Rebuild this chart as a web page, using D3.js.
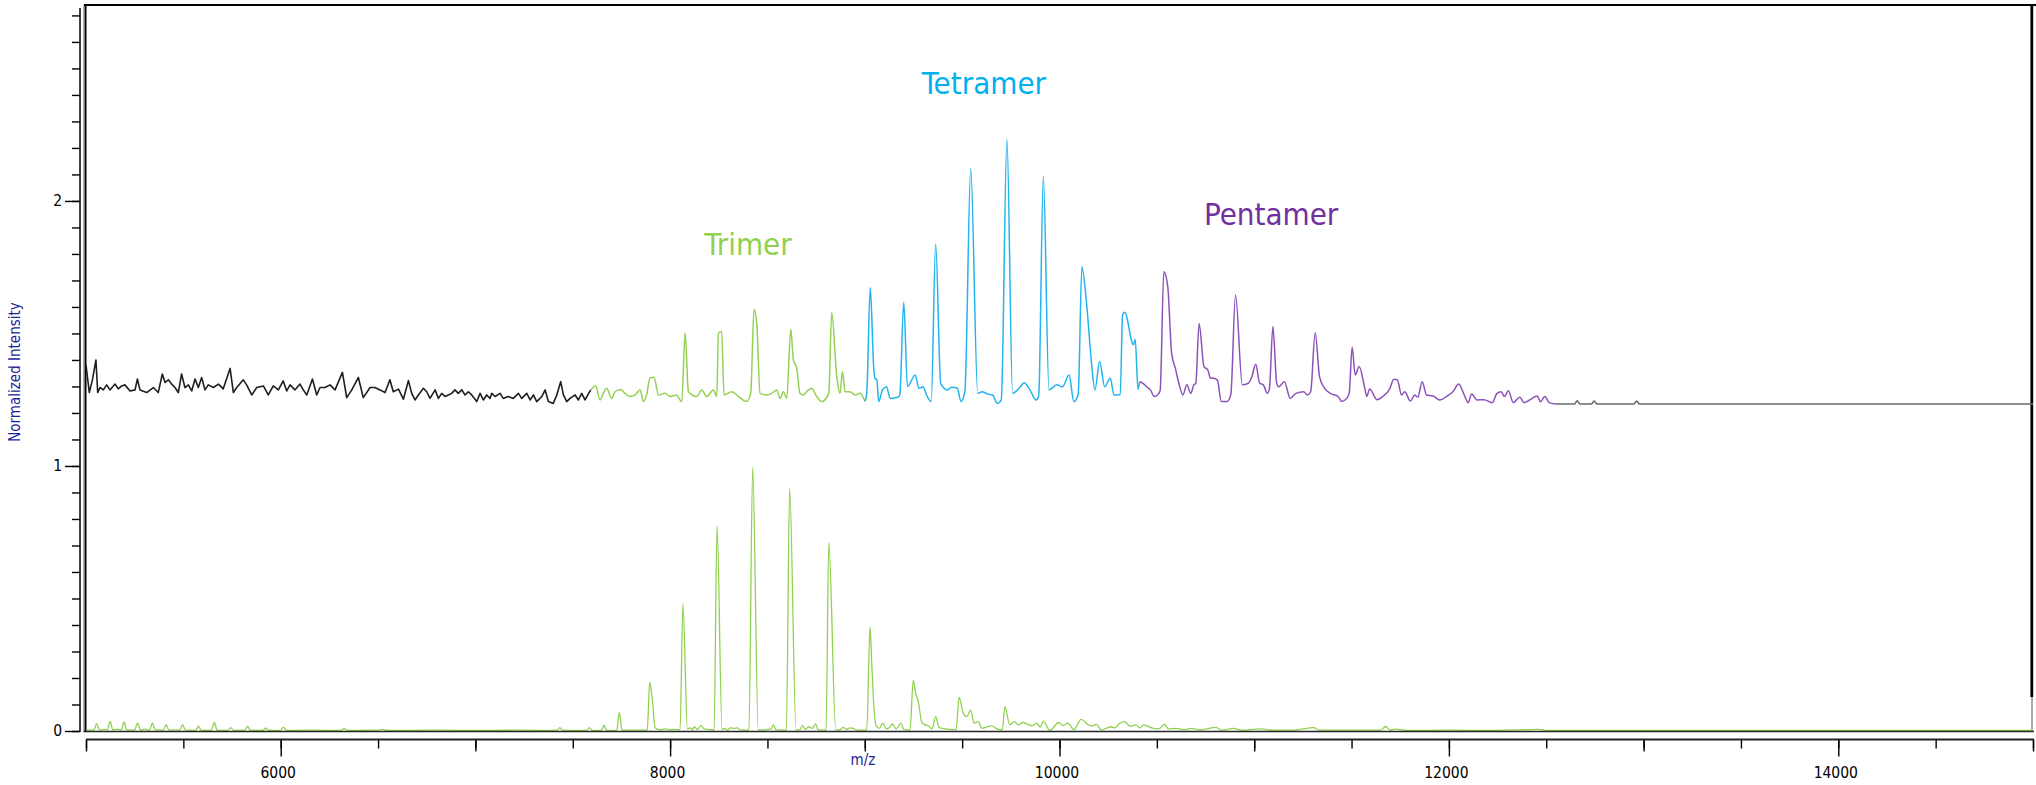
<!DOCTYPE html>
<html>
<head>
<meta charset="utf-8">
<script src="https://cdn.jsdelivr.net/npm/d3@7"></script>
<style>
body { margin: 0; background: #fff; overflow: hidden; }
svg { display: block; }
text { font-family: "DejaVu Sans Condensed", "DejaVu Sans", sans-serif; font-stretch: condensed; }
</style>
</head>
<body>
<div id="chart"></div>
<script>
// tick labels
var xTickLabels = [6000, 8000, 10000, 12000, 14000];
var xTickMid = [5000, 7000, 9000, 11000, 13000, 15000];
var yTickLabels = [0, 1, 2];

// annotations (m/z, intensity of baseline)
var labelNames = ["Trimer", "Tetramer", "Pentamer"];
var labelMz = [8400, 9612, 11087];
var labelLevel = [1.796, 2.403, 1.909];

// lower spectrum: [m/z, normalized intensity]
var lowerTrace = [
  [5000,0.004],[5040,0.003],[5055,0.028],[5068,0.004],[5100,0.006],[5110,0.004],[5124,0.036],[5138,0.004],
  [5160,0.006],[5182,0.004],[5196,0.034],[5210,0.003],[5250,0.004],[5265,0.030],[5280,0.003],[5300,0.007],
  [5326,0.003],[5341,0.030],[5356,0.004],[5398,0.003],[5412,0.024],[5426,0.003],[5460,0.004],[5482,0.003],
  [5496,0.024],[5511,0.003],[5562,0.002],[5578,0.018],[5592,0.002],[5643,0.002],[5659,0.032],[5674,0.002],
  [5728,0.002],[5743,0.013],[5758,0.002],[5814,0.002],[5830,0.017],[5845,0.002],[5908,0.002],[5923,0.011],
  [5938,0.002],[5998,0.002],[6014,0.015],[6030,0.002],[6150,0.003],[6310,0.002],[6326,0.009],[6342,0.002],
  [6500,0.003],[6524,0.006],[6545,0.002],[6800,0.003],[7000,0.002],[7200,0.003],[7420,0.002],[7434,0.013],
  [7448,0.002],[7572,0.002],[7586,0.013],[7600,0.002],[7648,0.002],[7661,0.022],[7674,0.002],[7726,0.003],
  [7739,0.069],[7753,0.003],[7883,0.003],[7895,0.184],[7909,0.117],[7923,0.012],[7948,0.004],[7975,0.008],
  [8000,0.004],[8020,0.006],[8051,0.004],[8066,0.479],[8089,0.008],[8105,0.012],[8115,0.004],[8125,0.016],
  [8140,0.006],[8160,0.020],[8175,0.008],[8226,0.004],[8241,0.774],[8267,0.006],[8280,0.010],[8295,0.004],
  [8310,0.012],[8330,0.010],[8345,0.012],[8360,0.004],[8405,0.003],[8424,0.995],[8453,0.004],[8470,0.004],
  [8500,0.006],[8520,0.008],[8530,0.023],[8545,0.004],[8597,0.003],[8614,0.916],[8647,0.004],[8665,0.004],
  [8680,0.020],[8695,0.006],[8712,0.016],[8730,0.010],[8748,0.027],[8760,0.004],[8801,0.003],[8815,0.711],
  [8851,0.004],[8870,0.004],[8890,0.014],[8905,0.006],[8925,0.012],[8940,0.010],[8960,0.003],[9010,0.003],
  [9027,0.394],[9036,0.250],[9046,0.100],[9058,0.020],[9075,0.010],[9092,0.030],[9110,0.008],[9125,0.012],
  [9143,0.027],[9160,0.008],[9186,0.030],[9200,0.006],[9232,0.003],[9249,0.192],[9262,0.140],[9275,0.110],
  [9292,0.035],[9305,0.025],[9325,0.020],[9345,0.008],[9364,0.054],[9380,0.015],[9395,0.010],[9469,0.005],
  [9484,0.127],[9506,0.067],[9523,0.054],[9544,0.079],[9561,0.030],[9583,0.035],[9601,0.010],[9625,0.015],
  [9652,0.019],[9678,0.008],[9706,0.004],[9720,0.092],[9744,0.023],[9769,0.035],[9789,0.023],[9813,0.032],
  [9837,0.025],[9860,0.020],[9882,0.030],[9901,0.015],[9917,0.037],[9950,0.002],[9996,0.032],[10019,0.020],
  [10042,0.030],[10074,0.005],[10111,0.044],[10143,0.026],[10166,0.019],[10190,0.025],[10215,0.004],[10240,0.010],
  [10265,0.016],[10285,0.012],[10304,0.026],[10334,0.035],[10363,0.018],[10393,0.023],[10412,0.012],[10432,0.023],
  [10481,0.010],[10510,0.008],[10540,0.025],[10560,0.008],[10599,0.010],[10640,0.004],[10678,0.010],[10720,0.004],
  [10805,0.014],[10830,0.003],[10893,0.010],[10940,0.003],[11031,0.008],[11100,0.003],[11200,0.003],[11307,0.013],
  [11330,0.003],[11500,0.003],[11650,0.003],[11674,0.017],[11700,0.003],[11720,0.007],[11800,0.002],[12000,0.003],
  [12200,0.002],[12462,0.006],[12500,0.002],[13000,0.002],[13500,0.002],[14000,0.002],[15000,0.002]
];

// upper (offset) spectrum, split by assignment
var upperNoise = [
  [5000,1.381],[5017,1.277],[5033,1.325],[5051,1.400],[5060,1.277],[5072,1.296],[5089,1.287],[5106,1.306],
  [5123,1.287],[5149,1.309],[5166,1.291],[5183,1.302],[5200,1.306],[5226,1.283],[5252,1.287],[5264,1.328],
  [5277,1.287],[5312,1.277],[5346,1.296],[5371,1.277],[5392,1.347],[5406,1.315],[5423,1.325],[5440,1.309],
  [5457,1.296],[5474,1.277],[5491,1.347],[5508,1.296],[5526,1.306],[5543,1.283],[5560,1.328],[5577,1.296],
  [5594,1.334],[5611,1.287],[5628,1.306],[5654,1.296],[5680,1.309],[5705,1.291],[5740,1.368],[5757,1.277],
  [5774,1.296],[5808,1.325],[5825,1.306],[5851,1.268],[5877,1.296],[5911,1.302],[5936,1.268],[5962,1.302],
  [5988,1.287],[6013,1.321],[6031,1.283],[6048,1.306],[6073,1.287],[6099,1.309],[6116,1.287],[6134,1.268],
  [6163,1.328],[6185,1.268],[6202,1.296],[6228,1.296],[6253,1.306],[6279,1.287],[6317,1.353],[6339,1.258],
  [6365,1.287],[6399,1.334],[6424,1.258],[6459,1.296],[6484,1.296],[6510,1.287],[6536,1.277],[6561,1.325],
  [6578,1.280],[6605,1.290],[6630,1.252],[6656,1.322],[6673,1.274],[6690,1.249],[6707,1.268],[6733,1.293],
  [6750,1.280],[6767,1.255],[6793,1.287],[6810,1.255],[6827,1.274],[6844,1.262],[6861,1.268],[6878,1.274],
  [6895,1.287],[6912,1.274],[6930,1.287],[6947,1.268],[6964,1.280],[6981,1.268],[7007,1.243],[7024,1.274],
  [7041,1.249],[7058,1.268],[7075,1.255],[7084,1.274],[7101,1.262],[7127,1.274],[7143,1.255],[7169,1.262],
  [7195,1.255],[7221,1.274],[7238,1.255],[7264,1.274],[7281,1.249],[7298,1.268],[7315,1.243],[7341,1.262],
  [7358,1.287],[7375,1.243],[7400,1.236],[7418,1.268],[7438,1.318],[7452,1.268],[7469,1.243],[7486,1.255],
  [7512,1.268],[7529,1.249],[7546,1.274],[7563,1.249],[7592,1.287]
];
var upperTrimer = [
  [7592,1.287],[7618,1.302],[7640,1.249],[7657,1.274],[7674,1.293],[7700,1.255],[7717,1.280],[7746,1.289],
  [7768,1.274],[7794,1.262],[7820,1.268],[7846,1.287],[7863,1.243],[7880,1.270],[7897,1.333],[7918,1.335],
  [7940,1.268],[7974,1.274],[8000,1.262],[8031,1.268],[8060,1.243],[8077,1.503],[8094,1.280],[8102,1.274],
  [8137,1.262],[8162,1.287],[8188,1.262],[8222,1.287],[8240,1.262],[8248,1.501],[8265,1.507],[8277,1.268],
  [8317,1.280],[8351,1.262],[8393,1.243],[8414,1.274],[8431,1.591],[8445,1.538],[8462,1.274],[8496,1.268],
  [8522,1.274],[8548,1.287],[8565,1.255],[8582,1.280],[8599,1.255],[8620,1.516],[8633,1.400],[8650,1.369],
  [8667,1.274],[8684,1.268],[8710,1.287],[8728,1.292],[8753,1.262],[8779,1.243],[8815,1.274],[8830,1.579],
  [8856,1.337],[8873,1.274],[8885,1.356],[8899,1.280],[8924,1.280],[8950,1.268],[8976,1.274],[9001,1.243]
];
var upperTetramer = [
  [9001,1.243],[9010,1.274],[9028,1.673],[9046,1.370],[9052,1.331],[9062,1.325],[9071,1.243],[9091,1.287],
  [9111,1.299],[9131,1.255],[9170,1.259],[9180,1.270],[9200,1.618],[9219,1.300],[9259,1.343],[9278,1.293],
  [9298,1.299],[9317,1.268],[9341,1.243],[9364,1.838],[9390,1.310],[9426,1.287],[9445,1.297],[9475,1.293],
  [9494,1.243],[9514,1.280],[9544,2.123],[9580,1.274],[9602,1.280],[9632,1.271],[9656,1.268],[9681,1.236],
  [9701,1.249],[9730,2.233],[9759,1.274],[9799,1.299],[9818,1.314],[9848,1.287],[9880,1.249],[9893,1.262],
  [9917,2.092],[9946,1.287],[9986,1.306],[10015,1.299],[10049,1.343],[10074,1.243],[10096,1.270],[10115,1.752],
  [10139,1.614],[10163,1.400],[10182,1.287],[10206,1.394],[10232,1.299],[10261,1.331],[10280,1.268],[10312,1.270],
  [10324,1.570],[10336,1.580],[10349,1.551],[10369,1.475],[10379,1.457],[10389,1.478],[10403,1.289],[10412,1.318]
];
var upperPentamer = [
  [10412,1.318],[10428,1.312],[10448,1.299],[10467,1.287],[10487,1.262],[10507,1.271],[10517,1.285],[10536,1.733],
  [10556,1.677],[10576,1.425],[10595,1.369],[10615,1.306],[10634,1.268],[10654,1.306],[10674,1.274],[10690,1.306],
  [10700,1.312],[10717,1.538],[10742,1.375],[10762,1.362],[10776,1.331],[10792,1.331],[10811,1.324],[10831,1.243],
  [10861,1.243],[10880,1.270],[10904,1.645],[10939,1.306],[10969,1.312],[10988,1.337],[11008,1.384],[11028,1.312],
  [11047,1.306],[11067,1.274],[11078,1.290],[11096,1.526],[11116,1.310],[11126,1.299],[11155,1.318],[11185,1.255],
  [11214,1.274],[11254,1.280],[11273,1.268],[11290,1.280],[11313,1.503],[11336,1.335],[11362,1.293],[11391,1.274],
  [11431,1.262],[11450,1.243],[11475,1.255],[11488,1.275],[11503,1.448],[11519,1.343],[11539,1.375],[11568,1.293],
  [11578,1.262],[11593,1.290],[11631,1.250],[11660,1.262],[11695,1.289],[11717,1.327],[11735,1.325],[11757,1.268],
  [11773,1.280],[11802,1.245],[11825,1.268],[11840,1.259],[11863,1.318],[11885,1.268],[11919,1.264],[11953,1.249],
  [11991,1.264],[12020,1.280],[12050,1.309],[12081,1.264],[12099,1.239],[12117,1.272],[12144,1.249],[12180,1.250],
  [12223,1.239],[12245,1.272],[12268,1.280],[12285,1.262],[12306,1.284],[12330,1.239],[12364,1.259],[12386,1.239],
  [12414,1.249],[12454,1.264],[12470,1.242],[12493,1.262],[12515,1.239],[12548,1.234]
];
var upperTail = [
  [12548,1.234],[12645,1.234],[12659,1.246],[12673,1.234],[12732,1.234],[12746,1.245],[12760,1.234],
  [12950,1.234],[12964,1.245],[12978,1.234],[15000,1.234]
];

var width = 2036, height = 785;
var navy = "#1f1f96";

var svg = d3.select("#chart").append("svg")
            .attr("width", width)
            .attr("height", height)
            .style("background", "#fff");

var x = d3.scaleLinear().domain([5000, 15000]).range([86, 2033]);
var y = d3.scaleLinear().domain([0, 2.728]).range([731, 8]);

// plot frame
var frame = svg.append("g").attr("class", "frame");
frame.append("line").attr("x1", 83.5).attr("x2", 83.5).attr("y1", 5).attr("y2", 733)
     .attr("stroke", "#b0b0b0").attr("stroke-width", 1);
frame.append("line").attr("x1", 85.5).attr("x2", 85.5).attr("y1", 4).attr("y2", 732)
     .attr("stroke", "#000").attr("stroke-width", 2);
frame.append("line").attr("x1", 84).attr("x2", 2036).attr("y1", 5).attr("y2", 5)
     .attr("stroke", "#000").attr("stroke-width", 2);
frame.append("line").attr("x1", 2031.8).attr("x2", 2031.8).attr("y1", 4).attr("y2", 697)
     .attr("stroke", "#000").attr("stroke-width", 2.8);
frame.append("line").attr("x1", 2032).attr("x2", 2032).attr("y1", 697).attr("y2", 731)
     .attr("stroke", "#555").attr("stroke-width", 1);

// spectra
var smooth = d3.line()
               .x(function(d) { return x(d[0]); })
               .y(function(d) { return y(d[1]); })
               .curve(d3.curveMonotoneX);
var jagged = d3.line()
               .x(function(d) { return x(d[0]); })
               .y(function(d) { return y(d[1]); });

var traces = [
  {data: upperNoise, color: "#1e1e1e", w: 1.6, gen: jagged},
  {data: upperTrimer, color: "#93d152", w: 1.5, gen: smooth},
  {data: upperTetramer, color: "#22b4ee", w: 1.5, gen: smooth},
  {data: upperPentamer, color: "#8c52ba", w: 1.5, gen: smooth},
  {data: upperTail, color: "#6b6b6b", w: 1.6, gen: smooth},
  {data: lowerTrace, color: "#8fd14f", w: 1.3, gen: smooth}
];

svg.append("g").selectAll("path")
   .data(traces)
   .enter()
   .append("path")
   .attr("d", function(d) { return d.gen(d.data); })
   .attr("fill", "none")
   .attr("stroke", function(d) { return d.color; })
   .attr("stroke-width", function(d) { return d.w; })
   .attr("stroke-linejoin", "round");

// bottom frame line over the zero baseline
svg.append("line").attr("x1", 84).attr("x2", 2034).attr("y1", 731.5).attr("y2", 731.5)
   .attr("stroke", "#000").attr("stroke-width", 1.6).attr("stroke-opacity", 0.85);

// y axis
var yMinor = svg.append("g").attr("transform", "translate(80,0)")
   .call(d3.axisLeft(y).tickValues(y.ticks(27)).tickSize(8).tickFormat(""));
yMinor.select(".domain").remove();

var yMajor = svg.append("g").attr("transform", "translate(80,0)")
   .call(d3.axisLeft(y).tickValues(yTickLabels).tickSize(15).tickPadding(3).tickFormat(d3.format("d")));
yMajor.select(".domain").remove();

svg.append("line").attr("x1", 80).attr("x2", 80).attr("y1", y.range()[1]).attr("y2", 732)
   .attr("stroke", "#000").attr("stroke-width", 1.5);

// x axis
var xAxisY = 739.5;
var xMinor = svg.append("g").attr("transform", "translate(0," + xAxisY + ")")
   .call(d3.axisBottom(x).tickValues(x.ticks(20)).tickSize(9).tickFormat(""));
xMinor.select(".domain").remove();

var xMid = svg.append("g").attr("transform", "translate(0," + xAxisY + ")")
   .call(d3.axisBottom(x).tickValues(xTickMid).tickSize(12).tickFormat(""));
xMid.select(".domain").remove();

var xMajor = svg.append("g").attr("transform", "translate(0," + xAxisY + ")")
   .call(d3.axisBottom(x).tickValues(xTickLabels).tickSize(17).tickPadding(10).tickFormat(d3.format("d")));
xMajor.select(".domain").remove();
xMajor.selectAll("text").attr("dx", -3);

svg.append("line").attr("x1", 86).attr("x2", 2034).attr("y1", xAxisY).attr("y2", xAxisY)
   .attr("stroke", "#222").attr("stroke-width", 2);

svg.selectAll(".tick line").attr("stroke", "#000").attr("stroke-width", 1.4);
svg.selectAll(".tick text").attr("fill", "#000").style("font-size", "15.5px");

// axis titles
svg.append("text")
   .attr("transform", "translate(20,372) rotate(-90)")
   .attr("text-anchor", "middle")
   .attr("fill", navy)
   .style("font-size", "15px")
   .text("Normalized Intensity");

svg.append("text")
   .attr("x", 863)
   .attr("y", 765)
   .attr("text-anchor", "middle")
   .attr("fill", navy)
   .style("font-size", "15px")
   .text("m/z");

// peak series annotations
var labelColors = ["#92d050", "#00b0f0", "#7030a0"];
svg.append("g").selectAll("text")
   .data(labelNames)
   .enter()
   .append("text")
   .attr("x", function(d, i) { return x(labelMz[i]); })
   .attr("y", function(d, i) { return y(labelLevel[i]); })
   .attr("text-anchor", "middle")
   .attr("fill", function(d, i) { return labelColors[i]; })
   .style("font-size", "31px")
   .text(function(d) { return d; });
</script>
</body>
</html>
